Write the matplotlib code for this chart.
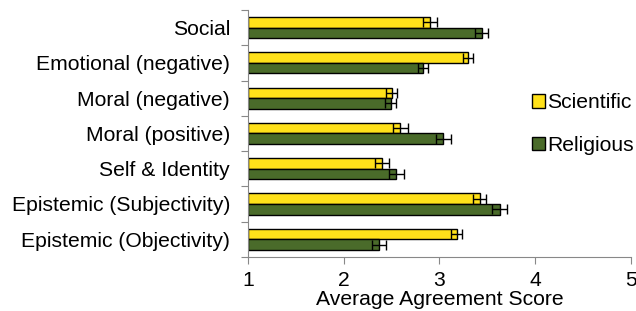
import numpy as np
import matplotlib.pyplot as plt

plt.rcParams['font.family'] = ['Liberation Sans', 'DejaVu Sans']

categories = ["Social", "Emotional (negative)", "Moral (negative)", "Moral (positive)",
              "Self & Identity", "Epistemic (Subjectivity)", "Epistemic (Objectivity)"]
scientific = [2.90, 3.30, 2.50, 2.59, 2.40, 3.42, 3.18]
scientific_err = [0.07, 0.05, 0.06, 0.08, 0.07, 0.07, 0.06]
religious = [3.44, 2.83, 2.49, 3.04, 2.55, 3.63, 2.37]
religious_err = [0.07, 0.05, 0.06, 0.08, 0.08, 0.08, 0.07]

fs = 15.2
fig = plt.figure(figsize=(6.36, 3.11), dpi=100)
ax = fig.add_axes([0.39, 0.174, 0.602, 0.794])

y = np.arange(len(categories))[::-1]
h = 0.30
ekw = dict(ecolor='black', elinewidth=1, capsize=3.5, capthick=1)
ax.barh(y + h/2, [v - 1 for v in scientific], h, left=1, color='#FFE11A', edgecolor='black',
        linewidth=1, xerr=scientific_err, error_kw=ekw, label='Scientific')
ax.barh(y - h/2, [v - 1 for v in religious], h, left=1, color='#4A6B2A', edgecolor='black',
        linewidth=1, xerr=religious_err, error_kw=ekw, label='Religious')

ax.set_xlim(1, 5)
ax.set_ylim(-0.5, 6.5)
ax.set_xticks([1, 2, 3, 4, 5])
ax.set_yticks(np.arange(-0.5, 7, 1), minor=False)
ax.set_yticklabels([])
ax.set_yticks(y, minor=True)
ax.set_yticklabels(categories, minor=True)
ax.tick_params(axis='y', which='minor', length=0, labelsize=fs, pad=13)
ax.tick_params(axis='y', which='major', length=5, color='#888888')
ax.tick_params(axis='x', length=5, color='#888888', labelsize=fs, pad=5)
ax.set_xlabel("Average Agreement Score", fontsize=fs, labelpad=0)
for s in ['top', 'right']:
    ax.spines[s].set_visible(False)
for s in ['left', 'bottom']:
    ax.spines[s].set_color('#888888')

ax.legend(loc='center left', bbox_to_anchor=(0.692, 0.538), frameon=False, fontsize=fs,
          handlelength=0.6, handleheight=0.6, handletextpad=0.1, labelspacing=1.1)

fig.savefig('out.png', dpi=100)
